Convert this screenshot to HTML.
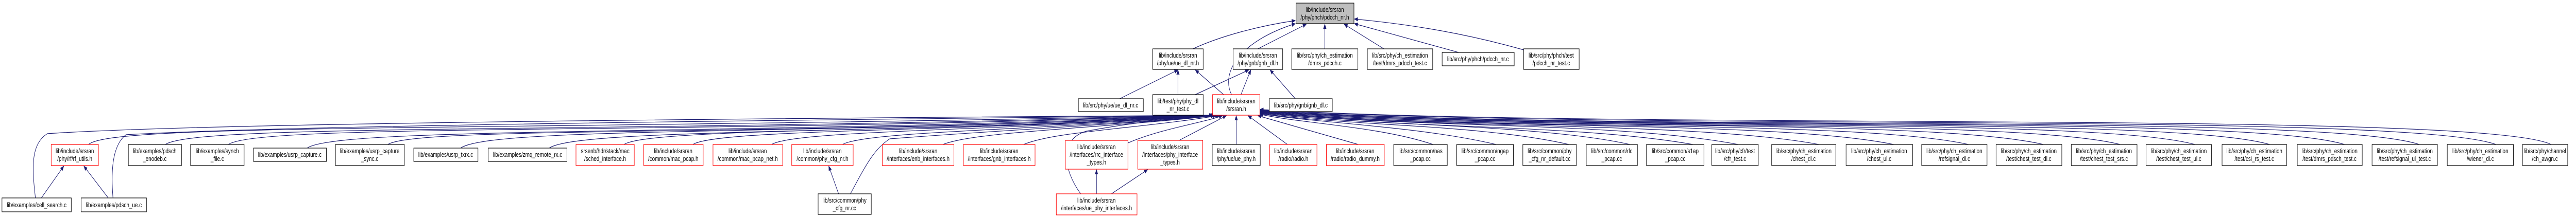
<!DOCTYPE html>
<html><head><meta charset="utf-8">
<style>
html,body{margin:0;padding:0;background:#fff;width:100%;height:100%;overflow:hidden;}
svg{display:block;width:100vw;height:100vh;}
text{font-family:"Liberation Sans",sans-serif;font-size:13px;fill:#000;text-anchor:middle;}
.e{fill:none;stroke:#191970;stroke-width:1.2;}
.n{fill:#fff;stroke:#000;stroke-width:1.2;}
.r{fill:#fff;stroke:#ff0000;stroke-width:1.2;}
</style></head><body>
<svg viewBox="0 0 6543 424" preserveAspectRatio="none" xmlns="http://www.w3.org/2000/svg">
<defs><marker id="a" markerWidth="10" markerHeight="8" refX="9" refY="4" orient="auto" markerUnits="userSpaceOnUse"><path d="M0,0 L10,4 L0,8 z" fill="#191970"/></marker></defs>
<g class="e" marker-end="url(#a)">
<path d="M3030,95 C3100,70 3200,50 3290,40"/>
<path d="M3128,184 C3100,140 3150,80 3290,46"/>
<path d="M3195,95 L3318,47"/>
<path d="M3365,95 L3365,47"/>
<path d="M3515,95 L3414,47"/>
<path d="M3705,102 L3440,46"/>
<path d="M3870,97 C3700,60 3550,45 3440,37"/>
<path d="M2844,192 L2992,136"/>
<path d="M2992,184 L2992,136"/>
<path d="M3036,184 L3172,136"/>
<path d="M3108,184 L3036,136"/>
<path d="M3152,184 L3177,136"/>
<path d="M3290,192 L3226,136"/>
<path d="M105,385 L162,323"/>
<path d="M275,385 L213,323"/>
<path d="M2130,377 L2105,323"/>
<path d="M2785,377 L2785,330"/>
<path d="M2823,377 L2915,330"/>
<path d="M90,385 C80,320 80,280 120,260 C600,235 2500,228 3080,224"/>
<path d="M287,385 C280,320 290,280 320,262 C800,240 2600,230 3082,224"/>
<path d="M2160,377 C2200,320 2220,290 2260,270 C2600,250 2900,240 3085,225"/>
<path d="M2745,377 C2700,330 2690,270 2760,255 C2900,235 3000,230 3090,225"/>
<path d="M225,281 C280,240 1200,255 3085,224"/>
<path d="M420,281 C500,240 1500,260 3085,224"/>
<path d="M580,281 C660,240 1700,262 3088,224"/>
<path d="M780,288 C860,245 1900,264 3088,224"/>
<path d="M985,281 C1060,245 2000,266 3090,224"/>
<path d="M1170,288 C1250,245 2100,264 3090,224"/>
<path d="M1395,288 C1470,248 2300,262 3092,224"/>
<path d="M1585,281 C1650,248 2400,258 3092,224"/>
<path d="M1760,281 C1820,250 2500,256 3094,224"/>
<path d="M1960,281 C2020,252 2600,254 3095,224"/>
<path d="M2140,281 C2200,254 2700,252 3096,224"/>
<path d="M2395,281 C2480,255 2800,250 3098,224"/>
<path d="M2600,281 C2680,255 2900,250 3100,224"/>
<path d="M2865,278 C2950,250 3050,240 3105,225"/>
<path d="M2995,273 L3115,225"/>
<path d="M3140,281 L3140,225"/>
<path d="M3270,281 L3170,225"/>
<path d="M3450,281 L3195,225"/>
<path d="M3640,281 C3500,245 3300,240 3200,222"/>
<path d="M3800,281 C3600,245 3350,240 3200,221"/>
<path d="M3985,281 C3750,240 3400,245 3200,220"/>
<path d="M4140,281 C3900,240 3450,245 3200,219"/>
<path d="M4300,281 C4000,240 3500,250 3200,219"/>
<path d="M4415,281 C4100,235 3550,250 3200,218"/>
<path d="M4620,281 C4300,235 3600,252 3200,218"/>
<path d="M4810,281 C4500,232 3650,254 3200,217"/>
<path d="M5000,281 C4700,230 3700,256 3200,217"/>
<path d="M5190,281 C4900,228 3750,256 3200,216"/>
<path d="M5385,281 C5100,226 3800,258 3200,216"/>
<path d="M5575,281 C5300,224 3850,258 3200,215"/>
<path d="M5765,281 C5500,222 3900,258 3200,215"/>
<path d="M5955,281 C5700,220 3950,258 3200,214"/>
<path d="M6145,281 C5900,218 4000,258 3200,214"/>
<path d="M6340,281 C6100,216 4050,256 3200,213"/>
<path d="M6480,281 C6300,214 4100,254 3200,213"/>
</g>
<rect x="3292" y="6" width="147" height="40" fill="#bfbfbf" stroke="#000" stroke-width="1.2"/>
<text x="3365" y="23">lib/include/srsran</text><text x="3365" y="38">/phy/phch/pdcch_nr.h</text>
<rect class="n" x="2928" y="95" width="128" height="40"/><text x="2992" y="112">lib/include/srsran</text><text x="2992" y="127">/phy/ue/ue_dl_nr.h</text>
<rect class="n" x="3132" y="95" width="126" height="40"/><text x="3195" y="112">lib/include/srsran</text><text x="3195" y="127">/phy/gnb/gnb_dl.h</text>
<rect class="n" x="3281" y="95" width="168" height="40"/><text x="3365" y="112">lib/src/phy/ch_estimation</text><text x="3365" y="127">/dmrs_pdcch.c</text>
<rect class="n" x="3473" y="95" width="166" height="40"/><text x="3556" y="112">lib/src/phy/ch_estimation</text><text x="3556" y="127">/test/dmrs_pdcch_test.c</text>
<rect class="n" x="3663" y="102" width="183" height="26"/><text x="3754" y="119">lib/src/phy/phch/pdcch_nr.c</text>
<rect class="n" x="3870" y="95" width="141" height="40"/><text x="3940" y="112">lib/src/phy/phch/test</text><text x="3940" y="127">/pdcch_nr_test.c</text>
<rect class="n" x="2739" y="192" width="165" height="25"/><text x="2821" y="209">lib/src/phy/ue/ue_dl_nr.c</text>
<rect class="n" x="2928" y="184" width="128" height="40"/><text x="2992" y="201">lib/test/phy/phy_dl</text><text x="2992" y="216">_nr_test.c</text>
<rect class="r" x="3080" y="184" width="120" height="40"/><text x="3140" y="201">lib/include/srsran</text><text x="3140" y="216">/srsran.h</text>
<rect class="n" x="3224" y="192" width="160" height="25"/><text x="3304" y="209">lib/src/phy/gnb/gnb_dl.c</text>
<rect class="r" x="130" y="281" width="120" height="41"/><text x="190" y="298">lib/include/srsran</text><text x="190" y="313">/phy/rf/rf_utils.h</text>
<rect class="n" x="326" y="281" width="135" height="41"/><text x="393" y="298">lib/examples/pdsch</text><text x="393" y="313">_enodeb.c</text>
<rect class="n" x="484" y="281" width="136" height="41"/><text x="552" y="298">lib/examples/synch</text><text x="552" y="313">_file.c</text>
<rect class="n" x="644" y="288" width="185" height="26"/><text x="736" y="305">lib/examples/usrp_capture.c</text>
<rect class="n" x="852" y="281" width="175" height="41"/><text x="939" y="298">lib/examples/usrp_capture</text><text x="939" y="313">_sync.c</text>
<rect class="n" x="1051" y="288" width="163" height="26"/><text x="1132" y="305">lib/examples/usrp_txrx.c</text>
<rect class="n" x="1240" y="288" width="200" height="26"/><text x="1340" y="305">lib/examples/zmq_remote_rx.c</text>
<rect class="r" x="1463" y="281" width="148" height="41"/><text x="1537" y="298">srsenb/hdr/stack/mac</text><text x="1537" y="313">/sched_interface.h</text>
<rect class="r" x="1635" y="281" width="151" height="41"/><text x="1710" y="298">lib/include/srsran</text><text x="1710" y="313">/common/mac_pcap.h</text>
<rect class="r" x="1811" y="281" width="177" height="41"/><text x="1899" y="298">lib/include/srsran</text><text x="1899" y="313">/common/mac_pcap_net.h</text>
<rect class="r" x="2011" y="281" width="156" height="41"/><text x="2089" y="298">lib/include/srsran</text><text x="2089" y="313">/common/phy_cfg_nr.h</text>
<rect class="r" x="2241" y="281" width="182" height="41"/><text x="2332" y="298">lib/include/srsran</text><text x="2332" y="313">/interfaces/enb_interfaces.h</text>
<rect class="r" x="2447" y="281" width="182" height="41"/><text x="2538" y="298">lib/include/srsran</text><text x="2538" y="313">/interfaces/gnb_interfaces.h</text>
<rect class="r" x="2706" y="273" width="159" height="56"/><text x="2785" y="290">lib/include/srsran</text><text x="2785" y="305">/interfaces/rrc_interface</text><text x="2785" y="320">_types.h</text>
<rect class="r" x="2890" y="273" width="165" height="56"/><text x="2972" y="290">lib/include/srsran</text><text x="2972" y="305">/interfaces/phy_interface</text><text x="2972" y="320">_types.h</text>
<rect class="n" x="3079" y="281" width="122" height="41"/><text x="3140" y="298">lib/include/srsran</text><text x="3140" y="313">/phy/ue/ue_phy.h</text>
<rect class="r" x="3225" y="281" width="120" height="41"/><text x="3285" y="298">lib/include/srsran</text><text x="3285" y="313">/radio/radio.h</text>
<rect class="r" x="3369" y="281" width="147" height="41"/><text x="3442" y="298">lib/include/srsran</text><text x="3442" y="313">/radio/radio_dummy.h</text>
<rect class="n" x="3540" y="281" width="136" height="41"/><text x="3608" y="298">lib/src/common/nas</text><text x="3608" y="313">_pcap.cc</text>
<rect class="n" x="3700" y="281" width="144" height="41"/><text x="3772" y="298">lib/src/common/ngap</text><text x="3772" y="313">_pcap.cc</text>
<rect class="n" x="3868" y="281" width="136" height="41"/><text x="3936" y="298">lib/src/common/phy</text><text x="3936" y="313">_cfg_nr_default.cc</text>
<rect class="n" x="4029" y="281" width="130" height="41"/><text x="4094" y="298">lib/src/common/rlc</text><text x="4094" y="313">_pcap.cc</text>
<rect class="n" x="4182" y="281" width="146" height="41"/><text x="4255" y="298">lib/src/common/s1ap</text><text x="4255" y="313">_pcap.cc</text>
<rect class="n" x="4348" y="281" width="118" height="41"/><text x="4407" y="298">lib/src/phy/cfr/test</text><text x="4407" y="313">/cfr_test.c</text>
<rect class="n" x="4500" y="281" width="163" height="41"/><text x="4581" y="298">lib/src/phy/ch_estimation</text><text x="4581" y="313">/chest_dl.c</text>
<rect class="n" x="4689" y="281" width="169" height="41"/><text x="4773" y="298">lib/src/phy/ch_estimation</text><text x="4773" y="313">/chest_ul.c</text>
<rect class="n" x="4881" y="281" width="166" height="41"/><text x="4964" y="298">lib/src/phy/ch_estimation</text><text x="4964" y="313">/refsignal_dl.c</text>
<rect class="n" x="5070" y="281" width="167" height="41"/><text x="5153" y="298">lib/src/phy/ch_estimation</text><text x="5153" y="313">/test/chest_test_dl.c</text>
<rect class="n" x="5261" y="281" width="167" height="41"/><text x="5344" y="298">lib/src/phy/ch_estimation</text><text x="5344" y="313">/test/chest_test_srs.c</text>
<rect class="n" x="5451" y="281" width="166" height="41"/><text x="5534" y="298">lib/src/phy/ch_estimation</text><text x="5534" y="313">/test/chest_test_ul.c</text>
<rect class="n" x="5644" y="281" width="164" height="41"/><text x="5726" y="298">lib/src/phy/ch_estimation</text><text x="5726" y="313">/test/csi_rs_test.c</text>
<rect class="n" x="5835" y="281" width="165" height="41"/><text x="5917" y="298">lib/src/phy/ch_estimation</text><text x="5917" y="313">/test/dmrs_pdsch_test.c</text>
<rect class="n" x="6025" y="281" width="166" height="41"/><text x="6108" y="298">lib/src/phy/ch_estimation</text><text x="6108" y="313">/test/refsignal_ul_test.c</text>
<rect class="n" x="6216" y="281" width="168" height="41"/><text x="6300" y="298">lib/src/phy/ch_estimation</text><text x="6300" y="313">/wiener_dl.c</text>
<rect class="n" x="6407" y="281" width="115" height="41"/><text x="6464" y="298">lib/src/phy/channel</text><text x="6464" y="313">/ch_awgn.c</text>
<rect class="n" x="5" y="385" width="176" height="27"/><text x="93" y="403">lib/examples/cell_search.c</text>
<rect class="n" x="206" y="385" width="166" height="27"/><text x="289" y="403">lib/examples/pdsch_ue.c</text>
<rect class="n" x="2078" y="377" width="135" height="40"/><text x="2145" y="394">lib/src/common/phy</text><text x="2145" y="409">_cfg_nr.cc</text>
<rect class="r" x="2683" y="377" width="205" height="41"/><text x="2785" y="394">lib/include/srsran</text><text x="2785" y="409">/interfaces/ue_phy_interfaces.h</text>
</svg>
</body></html>
